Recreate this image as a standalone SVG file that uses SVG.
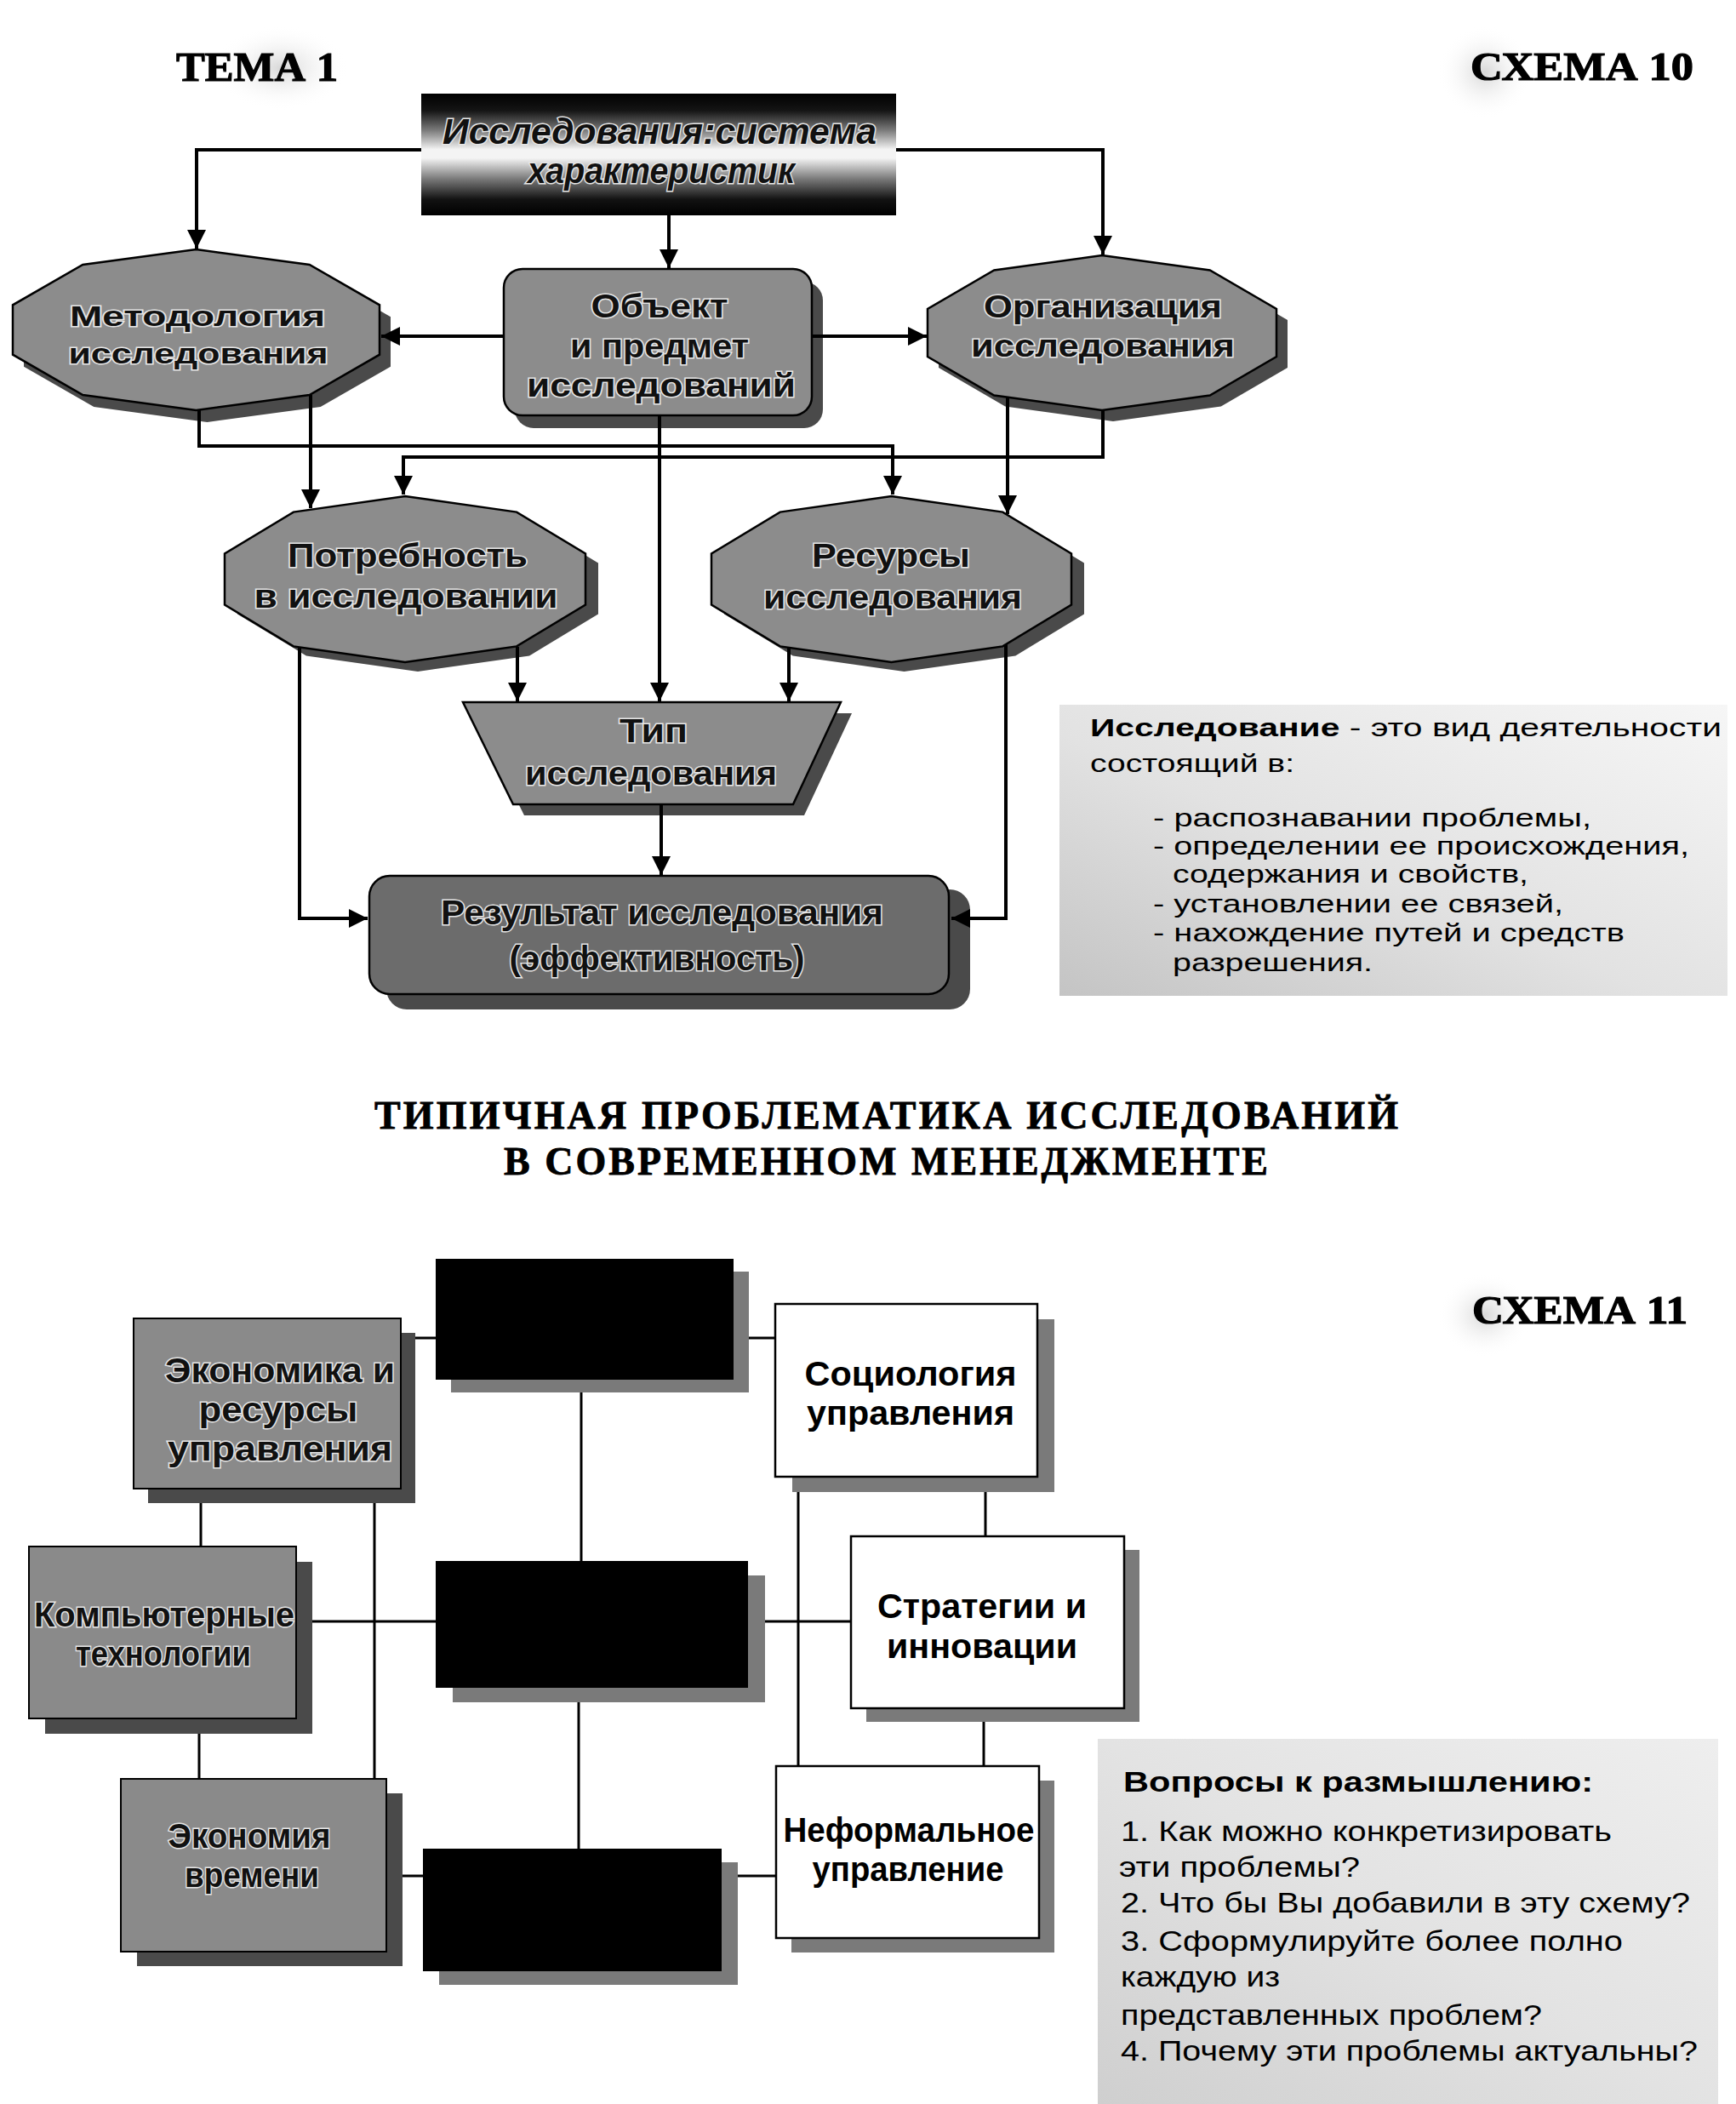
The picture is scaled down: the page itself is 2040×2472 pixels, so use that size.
<svg xmlns="http://www.w3.org/2000/svg" width="2040" height="2472" viewBox="0 0 2040 2472">
<defs>
<style>
.bg{fill:#fff}
.head{font-family:"Liberation Serif","Times New Roman",serif;font-weight:bold;fill:#000;stroke:#000;stroke-width:1.2}
.title{font-family:"Liberation Serif","Times New Roman",serif;font-weight:bold;fill:#000;stroke:#000;stroke-width:0.8}
.nt{font-family:"Liberation Sans",Arial,sans-serif;font-weight:bold;fill:#111;stroke:#e6e6e6;stroke-width:3;paint-order:stroke;text-anchor:middle}
.wt{font-family:"Liberation Sans",Arial,sans-serif;font-weight:bold;fill:#000;font-size:41px;text-anchor:middle}
.body{font-family:"Liberation Sans",Arial,sans-serif;fill:#000;font-size:29px}
.qb{font-family:"Liberation Sans",Arial,sans-serif;fill:#000;font-size:33px}
.b{font-weight:bold}
.node{fill:#8c8c8c;stroke:#000;stroke-width:2.5}
.dark{fill:#6c6c6c;stroke:#000;stroke-width:2.5}
.shadow{fill:#4a4a4a}
.shadow2{fill:#7a7a7a}
.blk{fill:#000}
.gbox{fill:#8a8a8a;stroke:#000;stroke-width:2}
.wbox{fill:#fff;stroke:#000;stroke-width:2.5}
.conn{stroke:#000;stroke-width:4;fill:none}
.conn2{stroke:#000;stroke-width:3;fill:none}
</style>
<marker id="arr" viewBox="0 0 10 10" refX="10" refY="5" markerWidth="24" markerHeight="22" markerUnits="userSpaceOnUse" orient="auto">
<path d="M0,0 L10,5 L0,10 z" fill="#000"/>
</marker>
<linearGradient id="topg" x1="0" y1="0" x2="0" y2="1">
<stop offset="0" stop-color="#000"/>
<stop offset="0.14" stop-color="#151515"/>
<stop offset="0.3" stop-color="#7a7a7a"/>
<stop offset="0.46" stop-color="#f4f4f4"/>
<stop offset="0.53" stop-color="#f4f4f4"/>
<stop offset="0.7" stop-color="#7a7a7a"/>
<stop offset="0.87" stop-color="#121212"/>
<stop offset="1" stop-color="#000"/>
</linearGradient>
<linearGradient id="boxg" x1="0" y1="1" x2="1" y2="0">
<stop offset="0" stop-color="#c4c4c4"/>
<stop offset="0.45" stop-color="#e2e2e2"/>
<stop offset="1" stop-color="#f6f6f6"/>
</linearGradient>
<linearGradient id="boxg2" x1="0" y1="1" x2="1" y2="0">
<stop offset="0" stop-color="#cfcfcf"/>
<stop offset="0.5" stop-color="#e3e3e3"/>
<stop offset="1" stop-color="#eeeeee"/>
</linearGradient>
<radialGradient id="cloud">
<stop offset="0" stop-color="#d8d8d8"/>
<stop offset="1" stop-color="#fff" stop-opacity="0"/>
</radialGradient>
</defs>
<rect class="bg" x="0" y="0" width="2040" height="2472"/>

<!-- headings -->
<g id="headings">
<ellipse cx="330" cy="80" rx="80" ry="50" fill="url(#cloud)"/>
<ellipse cx="1745" cy="85" rx="55" ry="55" fill="url(#cloud)"/>
<ellipse cx="1745" cy="1545" rx="55" ry="50" fill="url(#cloud)"/>
<text class="head" x="207" y="95" font-size="48" textLength="190" lengthAdjust="spacingAndGlyphs">ТЕМА 1</text>
<text class="head" x="1728" y="94" font-size="46" textLength="262" lengthAdjust="spacingAndGlyphs">СХЕМА 10</text>
<text class="head" x="1730" y="1555" font-size="46" textLength="253" lengthAdjust="spacingAndGlyphs">СХЕМА 11</text>
<text class="title" x="440" y="1326" font-size="46" textLength="1203" lengthAdjust="spacing">ТИПИЧНАЯ ПРОБЛЕМАТИКА ИССЛЕДОВАНИЙ</text>
<text class="title" x="592" y="1380" font-size="46" textLength="898" lengthAdjust="spacing">В СОВРЕМЕННОМ МЕНЕДЖМЕНТЕ</text>
</g>

<!-- ============ SCHEMA 10 ============ -->
<g id="n-top">
<rect x="495" y="110" width="558" height="143" fill="url(#topg)"/>
<text class="nt" x="775" y="169" font-size="42" font-style="italic" textLength="510" lengthAdjust="spacingAndGlyphs">Исследования:система</text>
<text class="nt" x="777" y="215" font-size="42" font-style="italic" textLength="314" lengthAdjust="spacingAndGlyphs">характеристик</text>
</g>

<g id="n-metod">
<polygon class="shadow" transform="translate(13,14)" points="230.5,293 363.7,311 446,358.3 446,416.7 363.7,464 230.5,482 97.3,464 15,416.7 15,358.3 97.3,311"/>
<polygon class="node" points="230.5,293 363.7,311 446,358.3 446,416.7 363.7,464 230.5,482 97.3,464 15,416.7 15,358.3 97.3,311"/>
<text class="nt" x="232" y="383" font-size="34" textLength="300" lengthAdjust="spacingAndGlyphs">Методология</text>
<text class="nt" x="233" y="427" font-size="34" textLength="305" lengthAdjust="spacingAndGlyphs">исследования</text>
</g>

<g id="n-obj">
<rect class="shadow" x="605" y="331" width="362" height="172" rx="22"/>
<rect class="node" x="592" y="316" width="362" height="172" rx="22"/>
<text class="nt" x="775" y="373" font-size="38" textLength="161" lengthAdjust="spacingAndGlyphs">Объект</text>
<text class="nt" x="775" y="420" font-size="38" textLength="210" lengthAdjust="spacingAndGlyphs">и предмет</text>
<text class="nt" x="777" y="466" font-size="38" textLength="316" lengthAdjust="spacingAndGlyphs">исследований</text>
</g>

<g id="n-org">
<polygon class="shadow" transform="translate(13,13)" points="1295,300 1421.8,317.4 1500,362.9 1500,419.1 1421.8,464.6 1295,482 1168.2,464.6 1090,419.1 1090,362.9 1168.2,317.4"/>
<polygon class="node" points="1295,300 1421.8,317.4 1500,362.9 1500,419.1 1421.8,464.6 1295,482 1168.2,464.6 1090,419.1 1090,362.9 1168.2,317.4"/>
<text class="nt" x="1296" y="373" font-size="37" textLength="280" lengthAdjust="spacingAndGlyphs">Организация</text>
<text class="nt" x="1296" y="419" font-size="37" textLength="310" lengthAdjust="spacingAndGlyphs">исследования</text>
</g>

<g id="n-potr">
<polygon class="shadow" transform="translate(15,11)" points="476,583 607.1,601.6 688,650.4 688,710.6 607.1,759.4 476,778 344.9,759.4 264,710.6 264,650.4 344.9,601.6"/>
<polygon class="node" points="476,583 607.1,601.6 688,650.4 688,710.6 607.1,759.4 476,778 344.9,759.4 264,710.6 264,650.4 344.9,601.6"/>
<text class="nt" x="479" y="666" font-size="38" textLength="282" lengthAdjust="spacingAndGlyphs">Потребность</text>
<text class="nt" x="477" y="714" font-size="38" textLength="357" lengthAdjust="spacingAndGlyphs">в исследовании</text>
</g>

<g id="n-res">
<polygon class="shadow" transform="translate(15,11)" points="1047.5,583 1178.3,601.6 1259,650.4 1259,710.6 1178.3,759.4 1047.5,778 916.7,759.4 836,710.6 836,650.4 916.7,601.6"/>
<polygon class="node" points="1047.5,583 1178.3,601.6 1259,650.4 1259,710.6 1178.3,759.4 1047.5,778 916.7,759.4 836,710.6 836,650.4 916.7,601.6"/>
<text class="nt" x="1047" y="666" font-size="38" textLength="186" lengthAdjust="spacingAndGlyphs">Ресурсы</text>
<text class="nt" x="1049" y="715" font-size="38" textLength="304" lengthAdjust="spacingAndGlyphs">исследования</text>
</g>

<g id="n-tip">
<polygon class="shadow" transform="translate(13,13)" points="544,825 988,825 932,945 603,945"/>
<polygon class="node" points="544,825 988,825 932,945 603,945"/>
<text class="nt" x="768" y="872" font-size="38" textLength="80" lengthAdjust="spacingAndGlyphs">Тип</text>
<text class="nt" x="765" y="922" font-size="38" textLength="296" lengthAdjust="spacingAndGlyphs">исследования</text>
</g>

<g id="n-result">
<rect class="shadow" x="454" y="1045" width="686" height="141" rx="24"/>
<rect class="dark" x="434" y="1029" width="681" height="139" rx="24"/>
<text class="nt" x="778" y="1086" font-size="40" textLength="520" lengthAdjust="spacingAndGlyphs">Результат исследования</text>
<text class="nt" x="772" y="1140" font-size="40" textLength="347" lengthAdjust="spacingAndGlyphs">(эффективность)</text>
</g>

<g id="connectors-10">
<path class="conn" d="M495,176 H231 V292" marker-end="url(#arr)"/>
<path class="conn" d="M1053,176 H1296 V299" marker-end="url(#arr)"/>
<path class="conn" d="M786,253 V315" marker-end="url(#arr)"/>
<path class="conn" d="M592,395 H448" marker-end="url(#arr)"/>
<path class="conn" d="M954,395 H1089" marker-end="url(#arr)"/>
<path class="conn" d="M234,481 V524 H1049 V581" marker-end="url(#arr)"/>
<path class="conn" d="M1296,481 V537 H474 V581" marker-end="url(#arr)"/>
<path class="conn" d="M365,464 V597" marker-end="url(#arr)"/>
<path class="conn" d="M1184,467 V604" marker-end="url(#arr)"/>
<path class="conn" d="M775,488 V824" marker-end="url(#arr)"/>
<path class="conn" d="M608,760 V824" marker-end="url(#arr)"/>
<path class="conn" d="M927,761 V824" marker-end="url(#arr)"/>
<path class="conn" d="M352,760 V1079 H432" marker-end="url(#arr)"/>
<path class="conn" d="M1182,757 V1079 H1118" marker-end="url(#arr)"/>
<path class="conn" d="M777,945 V1028" marker-end="url(#arr)"/>
</g>

<g id="def-box">
<rect x="1245" y="828" width="785" height="342" fill="url(#boxg)"/>
<text class="body" x="1281" y="865" textLength="742" lengthAdjust="spacingAndGlyphs"><tspan class="b">Исследование</tspan> - это вид деятельности</text>
<text class="body" x="1281" y="907" textLength="240" lengthAdjust="spacingAndGlyphs">состоящий в:</text>
<text class="body" x="1355" y="971" textLength="515" lengthAdjust="spacingAndGlyphs">- распознавании проблемы,</text>
<text class="body" x="1355" y="1004" textLength="630" lengthAdjust="spacingAndGlyphs">- определении ее происхождения,</text>
<text class="body" x="1378" y="1037" textLength="418" lengthAdjust="spacingAndGlyphs">содержания и свойств,</text>
<text class="body" x="1355" y="1072" textLength="482" lengthAdjust="spacingAndGlyphs">- установлении ее связей,</text>
<text class="body" x="1355" y="1106" textLength="554" lengthAdjust="spacingAndGlyphs">- нахождение путей и средств</text>
<text class="body" x="1378" y="1141" textLength="235" lengthAdjust="spacingAndGlyphs">разрешения.</text>
</g>

<!-- ============ SCHEMA 11 ============ -->
<g id="connectors-11">
<path class="conn2" d="M471,1572 H512"/>
<path class="conn2" d="M862,1572 H911"/>
<path class="conn2" d="M683,1621 V1834"/>
<path class="conn2" d="M680,1983 V2172"/>
<path class="conn2" d="M348,1905 H512"/>
<path class="conn2" d="M879,1905 H1000"/>
<path class="conn2" d="M440,1749 V2090"/>
<path class="conn2" d="M236,1749 V1817"/>
<path class="conn2" d="M234,2019 V2090"/>
<path class="conn2" d="M454,2204 H497"/>
<path class="conn2" d="M848,2204 H912"/>
<path class="conn2" d="M938,1735 V2075"/>
<path class="conn2" d="M1158,1735 V1805"/>
<path class="conn2" d="M1156,2007 V2075"/>
</g>

<g id="b-top">
<rect class="shadow2" x="530" y="1494" width="350" height="142"/>
<rect class="blk" x="512" y="1479" width="350" height="142"/>
</g>
<g id="b-mid">
<rect class="shadow2" x="532" y="1851" width="367" height="149"/>
<rect class="blk" x="512" y="1834" width="367" height="149"/>
</g>
<g id="b-bot">
<rect class="shadow2" x="516" y="2188" width="351" height="144"/>
<rect class="blk" x="497" y="2172" width="351" height="144"/>
</g>

<g id="n-econ">
<rect class="shadow" x="174" y="1566" width="314" height="200"/>
<rect class="gbox" x="157" y="1549" width="314" height="200"/>
<text class="nt" x="329" y="1624" font-size="40" textLength="270" lengthAdjust="spacingAndGlyphs">Экономика и</text>
<text class="nt" x="327" y="1670" font-size="40" textLength="187" lengthAdjust="spacingAndGlyphs">ресурсы</text>
<text class="nt" x="329" y="1716" font-size="40" textLength="264" lengthAdjust="spacingAndGlyphs">управления</text>
</g>
<g id="n-comp">
<rect class="shadow" x="53" y="1835" width="314" height="202"/>
<rect class="gbox" x="34" y="1817" width="314" height="202"/>
<text class="nt" x="193" y="1911" font-size="40" textLength="306" lengthAdjust="spacingAndGlyphs">Компьютерные</text>
<text class="nt" x="192" y="1957" font-size="40" textLength="206" lengthAdjust="spacingAndGlyphs">технологии</text>
</g>
<g id="n-time">
<rect class="shadow" x="161" y="2107" width="312" height="203"/>
<rect class="gbox" x="142" y="2090" width="312" height="203"/>
<text class="nt" x="293" y="2171" font-size="40" textLength="191" lengthAdjust="spacingAndGlyphs">Экономия</text>
<text class="nt" x="296" y="2217" font-size="40" textLength="158" lengthAdjust="spacingAndGlyphs">времени</text>
</g>

<g id="n-soc">
<rect class="shadow2" x="931" y="1550" width="308" height="203"/>
<rect class="wbox" x="911" y="1532" width="308" height="203"/>
<text class="wt" x="1070" y="1628" textLength="249" lengthAdjust="spacingAndGlyphs">Социология</text>
<text class="wt" x="1070" y="1674" textLength="244" lengthAdjust="spacingAndGlyphs">управления</text>
</g>
<g id="n-strat">
<rect class="shadow2" x="1018" y="1821" width="321" height="202"/>
<rect class="wbox" x="1000" y="1805" width="321" height="202"/>
<text class="wt" x="1154" y="1901" textLength="246" lengthAdjust="spacingAndGlyphs">Стратегии и</text>
<text class="wt" x="1154" y="1948" textLength="224" lengthAdjust="spacingAndGlyphs">инновации</text>
</g>
<g id="n-inf">
<rect class="shadow2" x="930" y="2092" width="309" height="202"/>
<rect class="wbox" x="912" y="2075" width="309" height="202"/>
<text class="wt" x="1068" y="2164" textLength="295" lengthAdjust="spacingAndGlyphs">Неформальное</text>
<text class="wt" x="1067" y="2210" textLength="225" lengthAdjust="spacingAndGlyphs">управление</text>
</g>

<g id="q-box">
<rect x="1290" y="2043" width="729" height="429" fill="url(#boxg2)"/>
<text class="qb b" x="1320" y="2105" textLength="552" lengthAdjust="spacingAndGlyphs">Вопросы к размышлению:</text>
<text class="qb" x="1317" y="2163" textLength="577" lengthAdjust="spacingAndGlyphs">1. Как можно конкретизировать</text>
<text class="qb" x="1315" y="2205" textLength="283" lengthAdjust="spacingAndGlyphs">эти проблемы?</text>
<text class="qb" x="1317" y="2247" textLength="669" lengthAdjust="spacingAndGlyphs">2. Что бы Вы добавили в эту схему?</text>
<text class="qb" x="1317" y="2292" textLength="590" lengthAdjust="spacingAndGlyphs">3. Сформулируйте более полно</text>
<text class="qb" x="1317" y="2334" textLength="187" lengthAdjust="spacingAndGlyphs">каждую из</text>
<text class="qb" x="1317" y="2379" textLength="495" lengthAdjust="spacingAndGlyphs">представленных проблем?</text>
<text class="qb" x="1317" y="2421" textLength="678" lengthAdjust="spacingAndGlyphs">4. Почему эти проблемы актуальны?</text>
</g>
</svg>
